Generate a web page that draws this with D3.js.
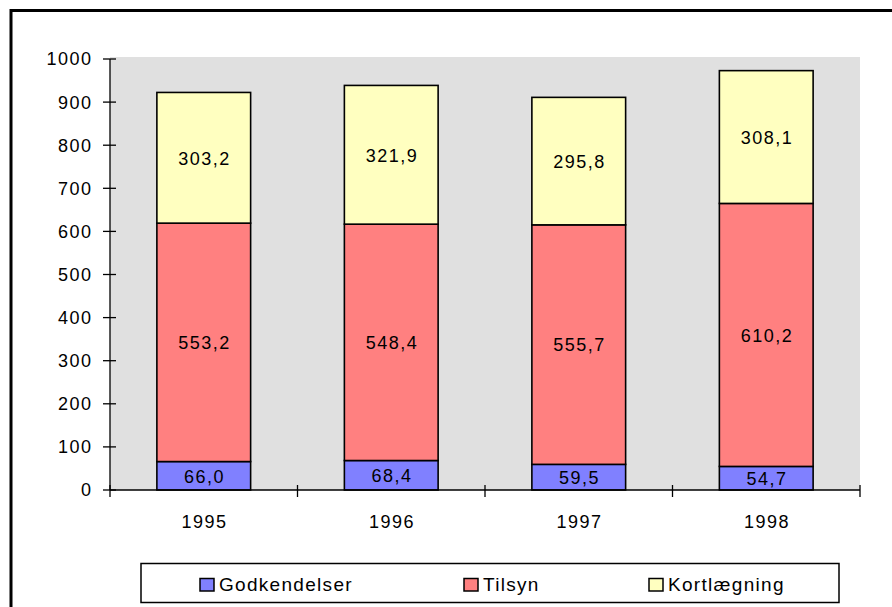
<!DOCTYPE html>
<meta charset="utf-8">
<style>
body { margin: 0; background: #fff; }
text { font-family: "Liberation Sans", Arial, sans-serif; font-size: 18px; letter-spacing: 1.5px; fill: #000; }
.legend text { font-size: 19px; letter-spacing: 1.3px; }
</style>
<script src="https://d3js.org/d3.v7.min.js"></script>
<body>
<script>

var years = ["1995", "1996", "1997", "1998"];
var godkendelser = [66.0, 68.4, 59.5, 54.7];
var tilsyn = [553.2, 548.4, 555.7, 610.2];
var kortlaegning = [303.2, 321.9, 295.8, 308.1];
var seriesNames = ["Godkendelser", "Tilsyn", "Kortlægning"];
var seriesColors = ["#8080ff", "#ff8080", "#ffffc0"];
var yTicks = [0, 100, 200, 300, 400, 500, 600, 700, 800, 900, 1000];

var width = 892, height = 607;
var plotLeft = 110, plotRight = 860, plotTop = 59, plotBottom = 490;

var svg = d3.select("body").append("svg")
    .attr("width", width)
    .attr("height", height);

// outer frame (right and bottom edges fall outside the picture)
svg.append("rect")
    .attr("x", 11).attr("y", 10.5)
    .attr("width", 900).attr("height", 620)
    .attr("fill", "#fff")
    .attr("stroke", "#000")
    .attr("stroke-width", 3);

var x = d3.scaleBand().domain(years).range([plotLeft, plotRight]).padding(0);
var y = d3.scaleLinear().domain([0, 1000]).range([plotBottom, plotTop]);

// plot area
svg.append("rect")
    .attr("x", plotLeft).attr("y", 57)
    .attr("width", plotRight - plotLeft).attr("height", plotBottom - 57)
    .attr("fill", "#e0e0e0");

var rows = years.map(function(yr, i) {
  return { year: yr, Godkendelser: godkendelser[i], Tilsyn: tilsyn[i], "Kortlægning": kortlaegning[i] };
});
var stacked = d3.stack().keys(seriesNames)(rows);

var barW = x.bandwidth() * 0.5;
var fmt = function(v) { return d3.format(".1f")(v).replace(".", ","); };

stacked.forEach(function(layer, li) {
  var g = svg.append("g");
  g.selectAll("rect")
    .data(layer)
    .enter().append("rect")
    .attr("x", function(d) { return x(d.data.year) + (x.bandwidth() - barW) / 2; })
    .attr("y", function(d) { return y(d[1]); })
    .attr("width", barW)
    .attr("height", function(d) { return y(d[0]) - y(d[1]); })
    .attr("fill", seriesColors[li])
    .attr("stroke", "#000")
    .attr("stroke-width", 1.6);
  g.selectAll("text")
    .data(layer)
    .enter().append("text")
    .attr("x", function(d) { return x(d.data.year) + x.bandwidth() / 2 + 0.75; })
    .attr("y", function(d) { return (y(d[0]) + y(d[1])) / 2; })
    .attr("dy", "0.38em")
    .attr("text-anchor", "middle")
    .text(function(d) { return fmt(d[1] - d[0]); });
});

// y axis
var yAxis = svg.append("g").attr("transform", "translate(" + plotLeft + ",0)");
yAxis.append("line").attr("x1", 0).attr("x2", 0).attr("y1", y(1000)).attr("y2", plotBottom)
    .attr("stroke", "#000").attr("stroke-width", 1.3);
yAxis.selectAll(".tk").data(yTicks).enter().append("line")
    .attr("x1", -7).attr("x2", 6)
    .attr("y1", function(d) { return y(d); }).attr("y2", function(d) { return y(d); })
    .attr("stroke", "#000").attr("stroke-width", 1.3);
yAxis.selectAll("text").data(yTicks).enter().append("text")
    .attr("x", -17.5)
    .attr("y", function(d) { return y(d); })
    .attr("dy", "0.36em")
    .attr("text-anchor", "end")
    .text(function(d) { return d; });

// x axis
var xAxis = svg.append("g");
xAxis.append("line").attr("x1", plotLeft).attr("x2", plotRight).attr("y1", plotBottom).attr("y2", plotBottom)
    .attr("stroke", "#000").attr("stroke-width", 1.3);
var xTickPos = years.map(function(d) { return x(d); }).concat([plotRight]);
xAxis.selectAll(".tk").data(xTickPos).enter().append("line")
    .attr("x1", function(d) { return d; }).attr("x2", function(d) { return d; })
    .attr("y1", plotBottom - 5).attr("y2", plotBottom + 7)
    .attr("stroke", "#000").attr("stroke-width", 1.3);
xAxis.selectAll("text").data(years).enter().append("text")
    .attr("x", function(d) { return x(d) + x.bandwidth() / 2 + 0.75; })
    .attr("y", 528)
    .attr("text-anchor", "middle")
    .text(function(d) { return d; });

// legend
var legend = svg.append("g").attr("class", "legend");
legend.append("rect")
    .attr("x", 141).attr("y", 563.5)
    .attr("width", 698).attr("height", 39)
    .attr("fill", "#fff").attr("stroke", "#000").attr("stroke-width", 1.5);
var legendX = [200, 464, 649];
seriesNames.forEach(function(name, i) {
  legend.append("rect")
    .attr("x", legendX[i]).attr("y", 578.5)
    .attr("width", 14).attr("height", 12.5)
    .attr("fill", seriesColors[i]).attr("stroke", "#000").attr("stroke-width", 1.5);
  legend.append("text")
    .attr("x", legendX[i] + 19).attr("y", 591)
    .text(name);
});

</script>
</body>
